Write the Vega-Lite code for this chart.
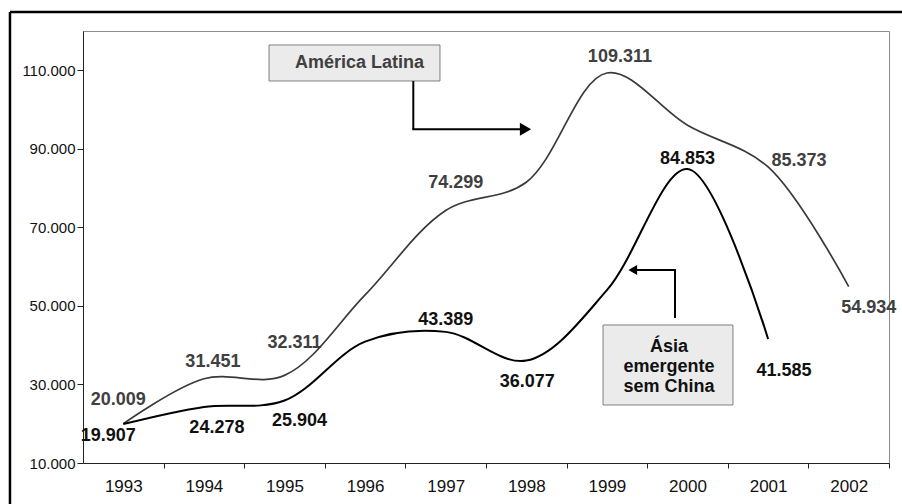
{
  "$schema": "https://vega.github.io/schema/vega-lite/v6.json",
  "width": 806,
  "height": 432,
  "autosize": {"type": "none"},
  "padding": {"left": 83, "top": 31, "right": 13, "bottom": 41},
  "background": "white",
  "config": {
    "font": "Liberation Sans",
    "view": {"stroke": "#8c8c8c", "strokeWidth": 1},
    "locale": {"number": {"decimal": ",", "thousands": ".", "grouping": [3], "currency": ["", ""]}},
    "axis": {"grid": false, "domainColor": "#222222", "tickColor": "#222222", "labelColor": "#111111", "labelFont": "Liberation Sans", "title": null}
  },
  "datasets": {
    "series": [
      {"year": 1993, "region": "América Latina", "value": 20009},
      {"year": 1994, "region": "América Latina", "value": 31451},
      {"year": 1995, "region": "América Latina", "value": 32311},
      {"year": 1996, "region": "América Latina", "value": 52800},
      {"year": 1997, "region": "América Latina", "value": 74299},
      {"year": 1998, "region": "América Latina", "value": 81500},
      {"year": 1999, "region": "América Latina", "value": 109311},
      {"year": 2000, "region": "América Latina", "value": 96000},
      {"year": 2001, "region": "América Latina", "value": 85373},
      {"year": 2002, "region": "América Latina", "value": 54934},
      {"year": 1993, "region": "Ásia emergente sem China", "value": 19907},
      {"year": 1994, "region": "Ásia emergente sem China", "value": 24278},
      {"year": 1995, "region": "Ásia emergente sem China", "value": 25904},
      {"year": 1996, "region": "Ásia emergente sem China", "value": 40900},
      {"year": 1997, "region": "Ásia emergente sem China", "value": 43389},
      {"year": 1998, "region": "Ásia emergente sem China", "value": 36077},
      {"year": 1999, "region": "Ásia emergente sem China", "value": 54000},
      {"year": 2000, "region": "Ásia emergente sem China", "value": 84853},
      {"year": 2001, "region": "Ásia emergente sem China", "value": 41585}
    ]
  },
  "data": {"name": "series"},
  "layer": [
    {
      "encoding": {
        "x": {
          "field": "year", "type": "quantitative",
          "scale": {"domain": [1992.5, 2002.5], "nice": false, "zero": false},
          "axis": {"values": [1993, 1994, 1995, 1996, 1997, 1998, 1999, 2000, 2001, 2002], "format": "d", "labelFontSize": 17, "tickSize": 5, "tickOffset": 40.3, "labelOffset": -40.3, "labelPadding": 10, "labelFlush": false, "labelOverlap": false, "title": null}
        },
        "y": {
          "field": "value", "type": "quantitative",
          "scale": {"domain": [10000, 120000], "nice": false, "zero": false},
          "axis": {"values": [10000, 30000, 50000, 70000, 90000, 110000], "format": ",d", "labelFontSize": 15, "tickSize": 6, "labelPadding": 2, "title": null}
        }
      },
      "layer": [
        {"transform": [{"filter": "datum.region === 'América Latina'"}], "mark": {"type": "line", "interpolate": "catmull-rom", "color": "#3a3a3a", "strokeWidth": 1.7}},
        {"transform": [{"filter": "datum.region !== 'América Latina'"}], "mark": {"type": "line", "interpolate": "catmull-rom", "color": "#000000", "strokeWidth": 2}},

        {"transform": [{"filter": "datum.region === 'América Latina' && datum.year === 1993"}], "mark": {"type": "text", "fontWeight": "bold", "fontSize": 18, "color": "#404040", "dx": -5, "dy": -24}, "encoding": {"text": {"field": "value", "format": ",d"}}},
        {"transform": [{"filter": "datum.region === 'América Latina' && datum.year === 1994"}], "mark": {"type": "text", "fontWeight": "bold", "fontSize": 18, "color": "#404040", "dx": 9, "dy": -17}, "encoding": {"text": {"field": "value", "format": ",d"}}},
        {"transform": [{"filter": "datum.region === 'América Latina' && datum.year === 1995"}], "mark": {"type": "text", "fontWeight": "bold", "fontSize": 18, "color": "#404040", "dx": 10, "dy": -32}, "encoding": {"text": {"field": "value", "format": ",d"}}},
        {"transform": [{"filter": "datum.region === 'América Latina' && datum.year === 1997"}], "mark": {"type": "text", "fontWeight": "bold", "fontSize": 18, "color": "#404040", "dx": 10, "dy": -27}, "encoding": {"text": {"field": "value", "format": ",d"}}},
        {"transform": [{"filter": "datum.region === 'América Latina' && datum.year === 1999"}], "mark": {"type": "text", "fontWeight": "bold", "fontSize": 18, "color": "#404040", "dx": 13, "dy": -16}, "encoding": {"text": {"field": "value", "format": ",d"}}},
        {"transform": [{"filter": "datum.region === 'América Latina' && datum.year === 2001"}], "mark": {"type": "text", "fontWeight": "bold", "fontSize": 18, "color": "#404040", "dx": 31, "dy": -6}, "encoding": {"text": {"field": "value", "format": ",d"}}},
        {"transform": [{"filter": "datum.region === 'América Latina' && datum.year === 2002"}], "mark": {"type": "text", "fontWeight": "bold", "fontSize": 18, "color": "#404040", "dx": 20, "dy": 21}, "encoding": {"text": {"field": "value", "format": ",d"}}},

        {"transform": [{"filter": "datum.region !== 'América Latina' && datum.year === 1993"}], "mark": {"type": "text", "fontWeight": "bold", "fontSize": 18, "color": "#111111", "dx": -15, "dy": 12}, "encoding": {"text": {"field": "value", "format": ",d"}}},
        {"transform": [{"filter": "datum.region !== 'América Latina' && datum.year === 1994"}], "mark": {"type": "text", "fontWeight": "bold", "fontSize": 18, "color": "#111111", "dx": 13, "dy": 21}, "encoding": {"text": {"field": "value", "format": ",d"}}},
        {"transform": [{"filter": "datum.region !== 'América Latina' && datum.year === 1995"}], "mark": {"type": "text", "fontWeight": "bold", "fontSize": 18, "color": "#111111", "dx": 15, "dy": 20}, "encoding": {"text": {"field": "value", "format": ",d"}}},
        {"transform": [{"filter": "datum.region !== 'América Latina' && datum.year === 1997"}], "mark": {"type": "text", "fontWeight": "bold", "fontSize": 18, "color": "#111111", "dx": 0, "dy": -12}, "encoding": {"text": {"field": "value", "format": ",d"}}},
        {"transform": [{"filter": "datum.region !== 'América Latina' && datum.year === 1998"}], "mark": {"type": "text", "fontWeight": "bold", "fontSize": 18, "color": "#111111", "dx": 1, "dy": 21}, "encoding": {"text": {"field": "value", "format": ",d"}}},
        {"transform": [{"filter": "datum.region !== 'América Latina' && datum.year === 2000"}], "mark": {"type": "text", "fontWeight": "bold", "fontSize": 18, "color": "#111111", "dx": 0, "dy": -10}, "encoding": {"text": {"field": "value", "format": ",d"}}},
        {"transform": [{"filter": "datum.region !== 'América Latina' && datum.year === 2001"}], "mark": {"type": "text", "fontWeight": "bold", "fontSize": 18, "color": "#111111", "dx": 16, "dy": 32}, "encoding": {"text": {"field": "value", "format": ",d"}}}
      ]
    },
    {
      "transform": [{"filter": "datum.region === 'América Latina' && datum.year === 1993"}],
      "layer": [
        {"mark": {"type": "rect", "fill": "#ebebeb", "stroke": "#7f7f7f", "strokeWidth": 1},
         "encoding": {"x": {"datum": 1994.808, "type": "quantitative"}, "x2": {"datum": 1996.929}, "y": {"datum": 116443, "type": "quantitative"}, "y2": {"datum": 107275}}},
        {"mark": {"type": "text", "text": "América Latina", "fontWeight": "bold", "fontSize": 18, "color": "#404040", "align": "center", "baseline": "middle"},
         "encoding": {"x": {"datum": 1995.93, "type": "quantitative"}, "y": {"datum": 111859, "type": "quantitative"}}},
        {"mark": {"type": "rule", "color": "#000000", "strokeWidth": 2},
         "encoding": {"x": {"datum": 1996.598, "type": "quantitative"}, "y": {"datum": 107275, "type": "quantitative"}, "y2": {"datum": 94970}}},
        {"mark": {"type": "rule", "color": "#000000", "strokeWidth": 2},
         "encoding": {"x": {"datum": 1996.586, "type": "quantitative"}, "x2": {"datum": 1997.947}, "y": {"datum": 94970, "type": "quantitative"}}},
        {"mark": {"type": "point", "shape": "triangle-right", "filled": true, "color": "#000000", "size": 169, "opacity": 1},
         "encoding": {"x": {"datum": 1997.99, "type": "quantitative"}, "y": {"datum": 94970, "type": "quantitative"}}},

        {"mark": {"type": "rect", "fill": "#ebebeb", "stroke": "#7f7f7f", "strokeWidth": 1},
         "encoding": {"x": {"datum": 1998.952, "type": "quantitative"}, "x2": {"datum": 2000.564}, "y": {"datum": 45141, "type": "quantitative"}, "y2": {"datum": 24770}}},
        {"mark": {"type": "text", "text": ["Ásia", "emergente", "sem China"], "lineHeight": 20, "fontWeight": "bold", "fontSize": 18, "color": "#111111", "align": "center", "baseline": "middle"},
         "encoding": {"x": {"datum": 1999.77, "type": "quantitative"}, "y": {"datum": 39539, "type": "quantitative"}}},
        {"mark": {"type": "rule", "color": "#000000", "strokeWidth": 2},
         "encoding": {"x": {"datum": 1999.845, "type": "quantitative"}, "y": {"datum": 59147, "type": "quantitative"}, "y2": {"datum": 46924}}},
        {"mark": {"type": "rule", "color": "#000000", "strokeWidth": 2},
         "encoding": {"x": {"datum": 1999.349, "type": "quantitative"}, "x2": {"datum": 1999.857}, "y": {"datum": 59147, "type": "quantitative"}}},
        {"mark": {"type": "point", "shape": "triangle-left", "filled": true, "color": "#000000", "size": 100, "opacity": 1},
         "encoding": {"x": {"datum": 1999.321, "type": "quantitative"}, "y": {"datum": 59147, "type": "quantitative"}}},

        {"mark": {"type": "rule", "color": "#000000", "strokeWidth": 2.5},
         "encoding": {"x": {"datum": 1991.594, "type": "quantitative"}, "x2": {"datum": 2002.8}, "y": {"datum": 124846, "type": "quantitative"}}},
        {"mark": {"type": "rule", "color": "#000000", "strokeWidth": 2.5},
         "encoding": {"x": {"datum": 1991.594, "type": "quantitative"}, "y": {"datum": 124846, "type": "quantitative"}, "y2": {"datum": -800}}}
      ]
    }
  ]
}
